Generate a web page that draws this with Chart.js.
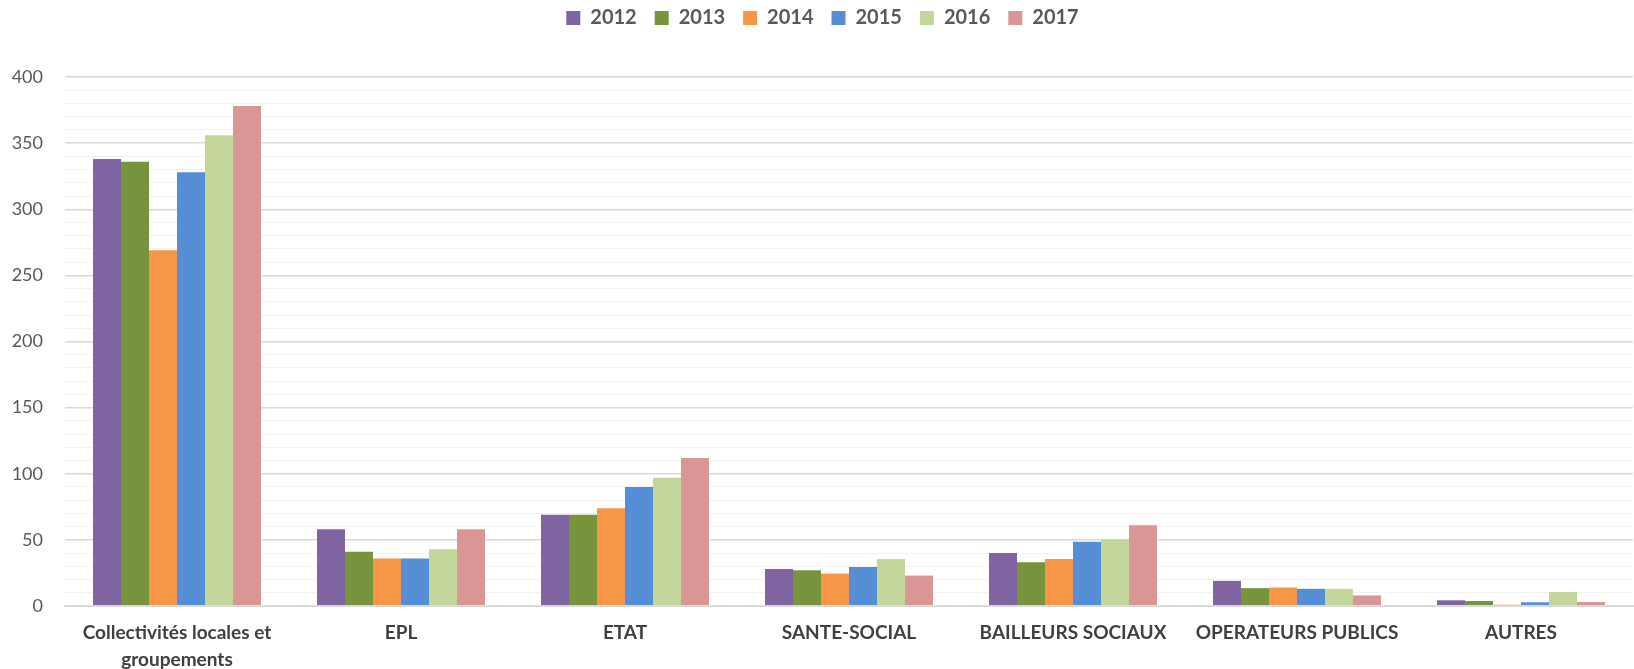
<!DOCTYPE html>
<html>
<head>
<meta charset="utf-8">
<script src="https://cdn.jsdelivr.net/npm/chart.js@4"></script>
<style>
  html, body { margin: 0; padding: 0; background: #fff; }
  #wrap { width: 1634px; height: 669px; }
</style>
</head>
<body>
<div id="wrap"><canvas id="chart" width="1634" height="669"></canvas></div>
<script>
// données
const categories = [
  ['Collectivités locales et', 'groupements'],
  'EPL', 'ETAT', 'SANTE-SOCIAL', 'BAILLEURS SOCIAUX', 'OPERATEURS PUBLICS', 'AUTRES'
];
const years = ['2012', '2013', '2014', '2015', '2016', '2017'];
const v2012 = [338, 58, 69, 28, 40, 19, 4.3];
const v2013 = [336, 41, 69, 27, 33, 13.5, 3.8];
const v2014 = [269, 36, 74, 24.5, 35.5, 14, 1];
const v2015 = [328, 36, 90, 29.5, 48.5, 13, 2.8];
const v2016 = [356, 43, 97, 35.5, 50.5, 13, 10.6];
const v2017 = [378, 58, 112, 23, 61, 8, 3];
const yTicks = [0, 50, 100, 150, 200, 250, 300, 350, 400];

const colors = ['#8064A2', '#77933C', '#F79646', '#558ED5', '#C3D69B', '#D99694'];
const series = [v2012, v2013, v2014, v2015, v2016, v2017];

const font = 'Lato, "Open Sans", sans-serif';

// legend takes a fixed band at the top
const legendBand = {
  id: 'legendBand',
  beforeInit(chart) {
    const fit = chart.legend.fit;
    chart.legend.fit = function () {
      fit.bind(chart.legend)();
      this.height = 87;
    };
  }
};

new Chart(document.getElementById('chart'), {
  type: 'bar',
  data: {
    labels: categories,
    datasets: years.map((y, i) => ({
      label: y,
      data: series[i],
      backgroundColor: colors[i],
      borderWidth: 0,
      categoryPercentage: 0.75,
      barPercentage: 1.0,
    })),
  },
  options: {
    responsive: false,
    animation: false,
    layout: { padding: { left: 12, right: 1, top: -10, bottom: 0 } },
    plugins: {
      legend: {
        position: 'top',
        labels: {
          boxWidth: 14,
          boxHeight: 14,
          padding: 18,
          color: '#595959',
          font: { family: font, size: 20, weight: 'bold' },
        },
      },
      tooltip: { enabled: false },
    },
    scales: {
      x: {
        afterFit: (s) => { s.height = 63; },
        grid: { display: false, drawTicks: false },
        border: { display: true, color: '#D9D9D9', width: 2 },
        ticks: {
          padding: 14,
          color: '#404040',
          maxRotation: 0,
          autoSkip: false,
          font: { family: font, size: 19, weight: 'bold', lineHeight: 1.4 },
        },
      },
      y: {
        min: 0,
        max: 400,
        afterFit: (s) => { s.width = 53; },
        border: { display: false },
        grid: {
          drawTicks: false,
          color: (ctx) => (ctx.tick && ctx.tick.value % 50 === 0 ? '#D9D9D9' : '#F2F2F2'),
          lineWidth: (ctx) => (ctx.tick && ctx.tick.value === 0 ? 2 : (ctx.tick && ctx.tick.value % 50 === 0 ? 1.5 : 1)),
        },
        ticks: {
          stepSize: 10,
          autoSkip: false,
          padding: 22,
          color: '#595959',
          font: { family: font, size: 18 },
          callback: (v) => (yTicks.includes(v) ? v : ''),
        },
      },
    },
  },
  plugins: [legendBand],
});
</script>
</body>
</html>
